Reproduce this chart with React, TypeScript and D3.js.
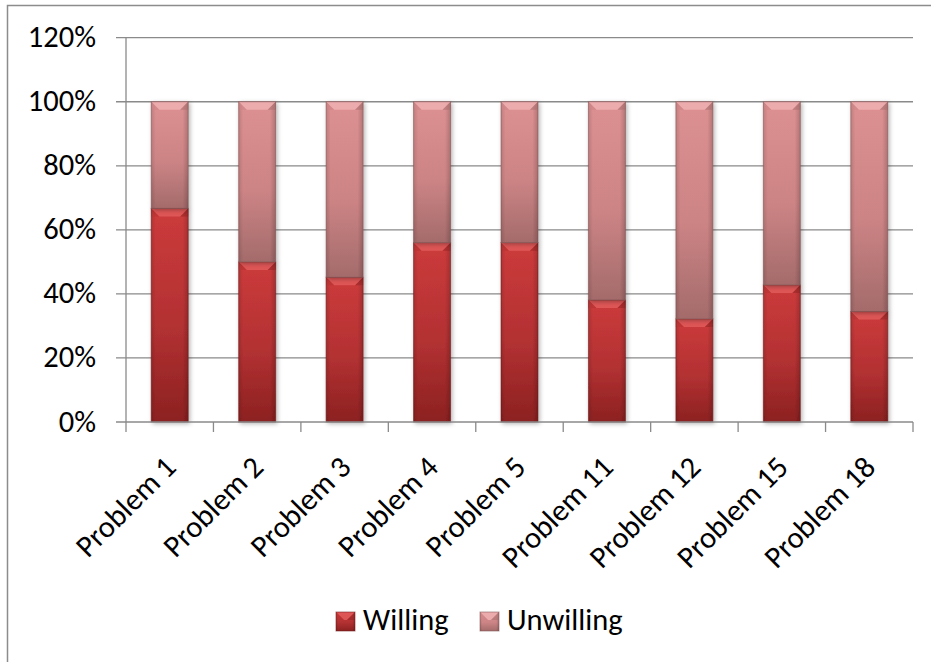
import React from "react";
import * as d3 from "d3";

// Share of respondents per problem, stacked to 100%
const categories = [
  "Problem 1",
  "Problem 2",
  "Problem 3",
  "Problem 4",
  "Problem 5",
  "Problem 11",
  "Problem 12",
  "Problem 15",
  "Problem 18",
];
const willing = [0.667, 0.5, 0.452, 0.56, 0.56, 0.381, 0.322, 0.428, 0.345];
const unwilling = [0.333, 0.5, 0.548, 0.44, 0.44, 0.619, 0.678, 0.572, 0.655];
const yTicks = [0, 0.2, 0.4, 0.6, 0.8, 1.0, 1.2];
const seriesNames = ["Willing", "Unwilling"];

const W = 931;
const H = 662;
const plot = { left: 126, right: 913, top: 37.7, bottom: 422 };
const FONT = "Carlito, Calibri, 'Open Sans', sans-serif";
const FS = 30.5;
const GRID = "#8a8a8a";

const colors = {
  Willing: { top: "#cc3b3c", mid: "#b33132", bottom: "#8c2121", bevel: "#e25c5c", edge: "#6e1a1a" },
  Unwilling: { top: "#dc9091", mid: "#cd8485", bottom: "#a46b6b", bevel: "#eeb0b1", edge: "#7d5050" },
};

function Segment({ x, y, w, h, name }: { x: number; y: number; w: number; h: number; name: string }) {
  const c = (colors as any)[name];
  const b = Math.min(8, h / 2, w / 2);
  const id = name.toLowerCase();
  return (
    <g>
      <rect x={x} y={y} width={w} height={h} fill={`url(#grad-${id})`} />
      <rect x={x} y={y} width={w} height={h} fill="url(#sides)" />
      {/* bevel on the top face */}
      <polygon
        points={`${x},${y} ${x + w},${y} ${x + w - b},${y + b} ${x + b},${y + b}`}
        fill={c.bevel}
        opacity={0.85}
      />
      <polygon points={`${x},${y} ${x + b},${y + b} ${x},${y + b}`} fill={c.mid} opacity={0.5} />
      <polygon points={`${x + w},${y} ${x + w - b},${y + b} ${x + w},${y + b}`} fill={c.bottom} opacity={0.5} />
      <rect x={x} y={y} width={w} height={h} fill="none" stroke={c.edge} strokeOpacity={0.55} strokeWidth={1} />
    </g>
  );
}

export default function App() {
  const x = d3
    .scaleBand<string>()
    .domain(categories)
    .range([plot.left, plot.right])
    .paddingInner(0.577)
    .paddingOuter(0.2885);
  const y = d3.scaleLinear().domain([0, 1.2]).range([plot.bottom, plot.top]);
  const fmt = d3.format(".0%");
  const step = x.step();
  const boundaries = d3.range(categories.length + 1).map((i) => plot.left + i * step);

  const stackData = categories.map((c, i) => ({ cat: c, Willing: willing[i], Unwilling: unwilling[i] }));
  const stacked = d3.stack<any>().keys(seriesNames)(stackData);

  return (
    <svg
      width={W}
      height={H}
      style={{ position: "absolute", left: 0, top: 0, background: "#fff" }}
      fontFamily={FONT}
    >
      <defs>
        {seriesNames.map((n) => {
          const c = (colors as any)[n];
          return (
            <linearGradient key={n} id={`grad-${n.toLowerCase()}`} x1="0" y1="0" x2="0" y2="1">
              <stop offset="0" stopColor={c.top} />
              <stop offset="0.55" stopColor={c.mid} />
              <stop offset="1" stopColor={c.bottom} />
            </linearGradient>
          );
        })}
        <linearGradient id="sides" x1="0" y1="0" x2="1" y2="0">
          <stop offset="0" stopColor="#000" stopOpacity={0.12} />
          <stop offset="0.12" stopColor="#000" stopOpacity={0} />
          <stop offset="0.85" stopColor="#000" stopOpacity={0} />
          <stop offset="1" stopColor="#000" stopOpacity={0.18} />
        </linearGradient>
        <filter id="shadow" x="-30%" y="-10%" width="160%" height="120%">
          <feDropShadow dx="1.5" dy="1.5" stdDeviation="2" floodColor="#000" floodOpacity={0.3} />
        </filter>
      </defs>

      {/* outer chart frame */}
      <rect x={7.5} y={5.5} width={W + 20} height={H + 20} fill="#fff" stroke="#8c8c8c" strokeWidth={1.5} />

      {/* gridlines and y tick marks */}
      {yTicks.map((t) => (
        <g key={t}>
          {t > 0 && (
            <line x1={plot.left - 10} x2={plot.right} y1={y(t)} y2={y(t)} stroke={GRID} strokeWidth={1.3} />
          )}
          <text x={96} y={y(t) + 9.5} textAnchor="end" fontSize={FS} fill="#000">
            {fmt(t)}
          </text>
        </g>
      ))}

      {/* bars */}
      {stacked.map((series) => (
        <g key={series.key} filter="url(#shadow)">
          {series.map((d, i) => {
            const x0 = x(categories[i])!;
            const yTop = y(d[1]);
            const yBot = y(d[0]);
            return <Segment key={i} x={x0} y={yTop} w={x.bandwidth()} h={yBot - yTop} name={series.key} />;
          })}
        </g>
      ))}

      {/* axes */}
      <line x1={plot.left} x2={plot.left} y1={plot.top} y2={plot.bottom} stroke={GRID} strokeWidth={1.3} />
      <line x1={plot.left - 10} x2={plot.right} y1={plot.bottom} y2={plot.bottom} stroke={GRID} strokeWidth={1.3} />
      {boundaries.map((bx, i) => (
        <line key={i} x1={bx} x2={bx} y1={plot.bottom} y2={plot.bottom + 10} stroke={GRID} strokeWidth={1.3} />
      ))}

      {/* category labels */}
      {categories.map((c) => {
        const cx = x(c)! + x.bandwidth() / 2;
        const ax = cx + 8;
        const ay = plot.bottom + 47;
        return (
          <text
            key={c}
            x={ax}
            y={ay}
            textAnchor="end"
            fontSize={FS}
            fill="#000"
            transform={`rotate(-45, ${ax}, ${ay})`}
          >
            {c}
          </text>
        );
      })}

      {/* legend */}
      {seriesNames.map((n, i) => {
        const lx = i === 0 ? 336 : 480;
        return (
          <g key={n}>
            <Segment x={lx} y={612} w={19} h={19} name={n} />
            <text x={lx + 27} y={629.5} fontSize={FS} fill="#000">
              {n}
            </text>
          </g>
        );
      })}
    </svg>
  );
}
